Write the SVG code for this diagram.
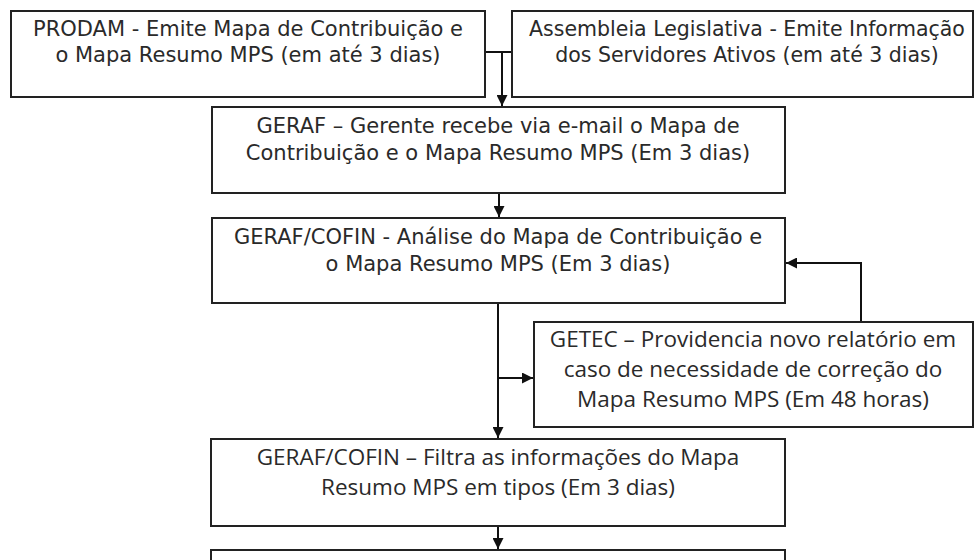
<svg xmlns="http://www.w3.org/2000/svg" width="974" height="560" viewBox="0 0 974 560">
<style>
.box{fill:#fff;stroke:#222;stroke-width:2}
.w{font-family:"DejaVu Sans",Verdana,sans-serif;font-size:21px;fill:#2a2a2a;text-anchor:middle}
.s{font-size:20.5px}
.n{font-family:"Open Sans","Liberation Sans",sans-serif;font-size:22.5px;fill:#2a2a2a;text-anchor:middle}
.c{fill:none;stroke:#111;stroke-width:2}
</style>
<defs>
<marker id="ah" viewBox="0 0 10 10" refX="10" refY="5" markerWidth="5.5" markerHeight="5.5" orient="auto" markerUnits="strokeWidth">
<path d="M0,0 L10,5 L0,10 z" fill="#111"/>
</marker>
</defs>
<rect width="974" height="560" fill="#fff"/>
<g id="connectors">
<path class="c" d="M485,52 H512"/>
<path class="c" d="M502,52 V106" marker-end="url(#ah)"/>
<path class="c" d="M499,193 V217" marker-end="url(#ah)"/>
<path class="c" d="M498,303 V438" marker-end="url(#ah)"/>
<path class="c" d="M498,378 H533" marker-end="url(#ah)"/>
<path class="c" d="M861,322 V263 H786" marker-end="url(#ah)"/>
<path class="c" d="M498,526 V549" marker-end="url(#ah)"/>
</g>
<g id="prodam">
<rect class="box" x="11" y="11" width="474" height="86"/>
<text class="w" x="248" y="36">PRODAM - Emite Mapa de Contribuição e</text>
<text class="w" x="248" y="62">o Mapa Resumo MPS (em até 3 dias)</text>
</g>
<g id="assembleia">
<rect class="box" x="512" y="11" width="461" height="86"/>
<text class="w s" x="747" y="36">Assembleia Legislativa - Emite Informação</text>
<text class="w s" x="747" y="62">dos Servidores Ativos (em até 3 dias)</text>
</g>
<g id="geraf">
<rect class="box" x="212" y="107" width="573" height="86"/>
<text class="w" x="498" y="133">GERAF – Gerente recebe via e-mail o Mapa de</text>
<text class="w" x="498" y="160">Contribuição e o Mapa Resumo MPS (Em 3 dias)</text>
</g>
<g id="geraf-cofin-analise">
<rect class="box" x="212" y="218" width="573" height="85"/>
<text class="w" x="498" y="244">GERAF/COFIN - Análise do Mapa de Contribuição e</text>
<text class="w" x="498" y="271">o Mapa Resumo MPS (Em 3 dias)</text>
</g>
<g id="getec">
<rect class="box" x="534" y="322" width="439" height="105"/>
<text class="n" x="753" y="347">GETEC – Providencia novo relatório em</text>
<text class="n" x="753" y="377">caso de necessidade de correção do</text>
<text class="n" x="753" y="407">Mapa Resumo MPS (Em 48 horas)</text>
</g>
<g id="geraf-cofin-filtra">
<rect class="box" x="211" y="439" width="574" height="87"/>
<text class="n" x="498" y="465">GERAF/COFIN – Filtra as informações do Mapa</text>
<text class="n" x="498" y="495">Resumo MPS em tipos (Em 3 dias)</text>
</g>
<g id="next-step">
<rect class="box" x="211" y="550" width="574" height="40"/>
</g>
</svg>
